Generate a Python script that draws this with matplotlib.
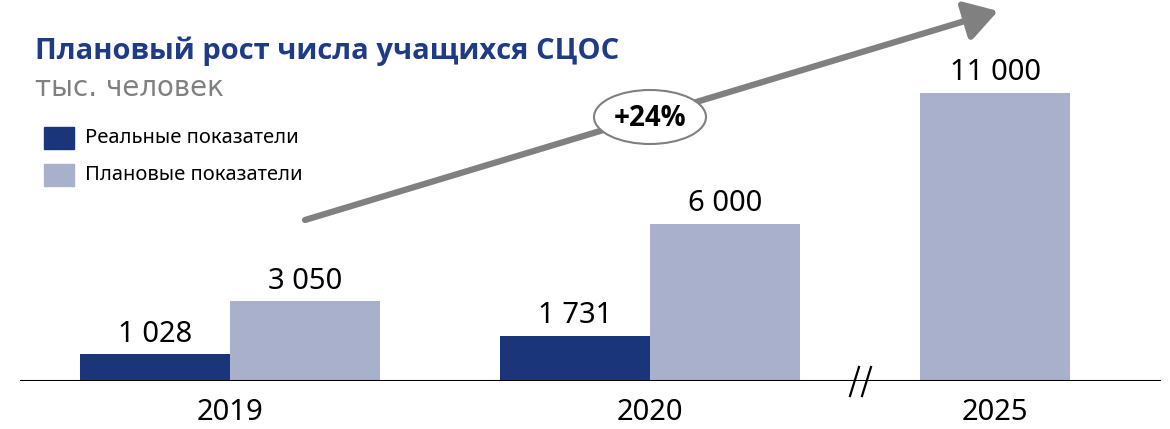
import matplotlib.pyplot as plt
import numpy as np
from matplotlib.patches import Ellipse, FancyArrowPatch
from matplotlib.lines import Line2D

# Данные
years = ['2019', '2020', '2025']
real_years = ['2019', '2020']
real_vals = [1028, 1731]
plan_vals = [3050, 6000, 11000]
real_labels = ['1 028', '1 731']
plan_labels = ['3 050', '6 000', '11 000']
growth = '+24%'

title = 'Плановый рост числа учащихся СЦОС'
subtitle = 'тыс. человек'
leg_real = 'Реальные показатели'
leg_plan = 'Плановые показатели'

c_real = '#1b357b'
c_plan = '#a9b0cb'
c_title = '#1f3a86'
c_grey = '#808080'

plt.rcParams['font.family'] = ['Noto Sans', 'DejaVu Sans']

fig = plt.figure(figsize=(11.7, 4.29), dpi=100)
ax = fig.add_axes([0, 48/429, 1, 1 - 48/429])

# позиции групп (ширина столбца = 1)
grp = np.array([0.0, 2.8, 5.1])
x_real = grp[:2] - 0.5
x_plan = np.array([grp[0] + 0.5, grp[1] + 0.5, grp[2]])

ax.bar(x_real, real_vals, width=1, color=c_real, zorder=2)
ax.bar(x_plan, plan_vals, width=1, color=c_plan, zorder=2)

for x, v, s in zip(x_real, real_vals, real_labels):
    ax.annotate(s, (x, v), xytext=(0, 4), textcoords='offset points',
                ha='center', va='bottom', fontsize=21, color='black')
for x, v, s in zip(x_plan, plan_vals, plan_labels):
    ax.annotate(s, (x, v), xytext=(0, 4), textcoords='offset points',
                ha='center', va='bottom', fontsize=21, color='black')

ax.set_xlim(-230/150, 940/150)
ax.set_ylim(0, 381/0.02618)
ax.axhline(0, xmin=21/1170, xmax=1160/1170, color='black', lw=1.5, zorder=3)

ax.set_xticks(grp)
ax.set_xticklabels(years, fontsize=21)
ax.tick_params(axis='x', length=0, pad=12)
ax.set_yticks([])
for sp in ax.spines.values():
    sp.set_visible(False)
ax.patch.set_alpha(0)

# разрыв оси
for x0 in (850, 862):
    fig.add_artist(Line2D([x0/1170, (x0 + 9)/1170], [1 - 396/429, 1 - 367/429],
                          transform=fig.transFigure, color='black', lw=1.6))

# заголовок и подзаголовок
fig.text(35/1170, 1 - 51/429, title, fontsize=21, fontweight='bold',
         family='Open Sans', color=c_title, va='center', ha='left')
fig.text(35/1170, 1 - 88/429, subtitle, fontsize=20, color=c_grey,
         family='DejaVu Sans', va='center', ha='left')

# легенда
for i, (lab, col) in enumerate([(leg_real, c_real), (leg_plan, c_plan)]):
    yc = 138 + i*37
    fig.patches.append(plt.Rectangle((44/1170, 1 - (yc + 11)/429), 30/1170, 22/429,
                                     transform=fig.transFigure, color=col))
    fig.text(85/1170, 1 - yc/429, lab, fontsize=14.5, color='black',
             va='center', ha='left')

# стрелка роста
arr = FancyArrowPatch((305/1170, 1 - 220/429), (998/1170, 1 - 11/429),
                      transform=fig.transFigure,
                      arrowstyle='-|>,head_length=0.9,head_width=0.55',
                      mutation_scale=22, color=c_grey, lw=4.5, shrinkA=0, shrinkB=0)
fig.patches.append(arr)

ell = Ellipse((650/1170, 1 - 117/429), 112/1170, 54/429, transform=fig.transFigure,
              facecolor='white', edgecolor=c_grey, lw=1.5, zorder=5)
fig.patches.append(ell)
fig.text(650/1170, 1 - 118/429, growth, fontsize=20, fontweight='bold',
         family='Open Sans', color='black', ha='center', va='center', zorder=6)

fig.savefig('out.png', dpi=100)
